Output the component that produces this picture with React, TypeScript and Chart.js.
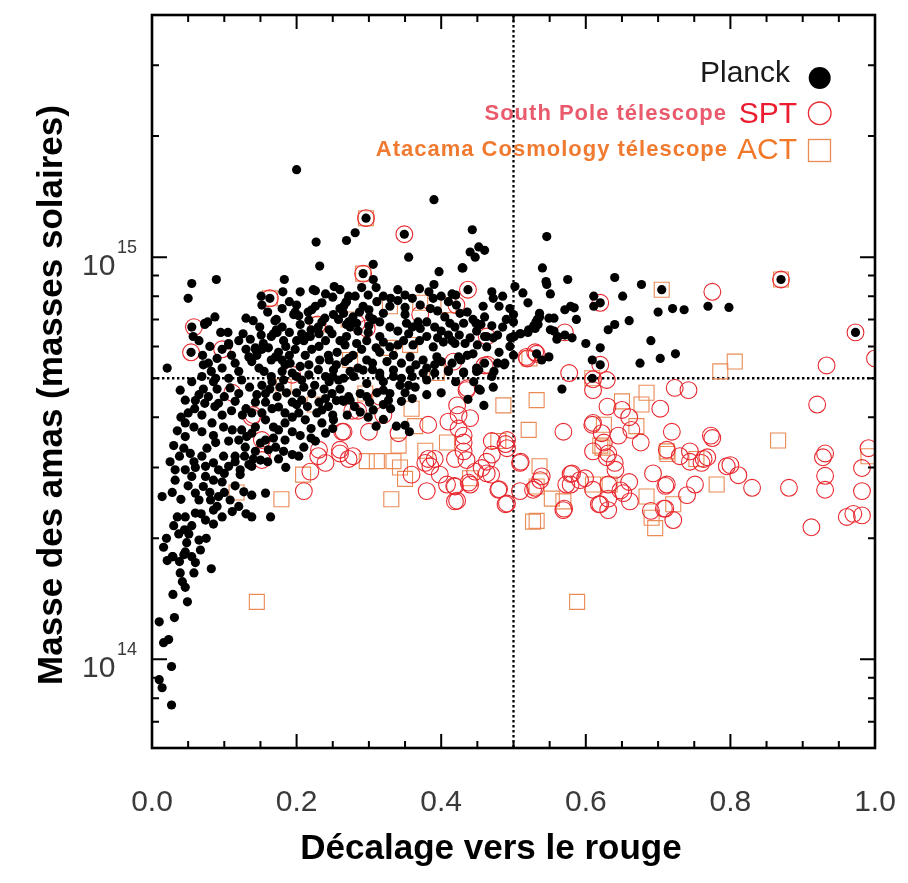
import React, { useEffect, useRef } from "react";
import { Chart, registerables } from "chart.js";

Chart.register(...registerables);

// Masses are given in units of 10^14 solar masses; redshift z first.
const massUnit = 1e14;

const planckData: [number, number][] = [
  [0.2, 16.5], [0.39, 13.9], [0.296, 12.5], [0.349, 11.4], [0.269, 11.0], [0.281, 11.5], [0.227, 10.9], [0.355, 10.0],
  [0.443, 11.7], [0.44, 10.3], [0.447, 10.0], [0.452, 10.6], [0.46, 10.4], [0.546, 11.25], [0.306, 9.6], [0.292, 9.1],
  [0.306, 8.8], [0.397, 9.2], [0.429, 9.4], [0.437, 8.3], [0.39, 8.55], [0.383, 8.2], [0.34, 8.3], [0.232, 9.5],
  [0.183, 8.8], [0.089, 8.8], [0.055, 8.6], [0.05, 7.9], [0.163, 7.9], [0.181, 8.2], [0.205, 8.2], [0.151, 8.0],
  [0.152, 7.6], [0.223, 8.3], [0.226, 8.25], [0.252, 8.45], [0.235, 7.7], [0.268, 7.7], [0.055, 6.7], [0.057, 6.35],
  [0.073, 6.8], [0.087, 7.1], [0.054, 5.8], [0.097, 5.9], [0.106, 6.1], [0.095, 6.5], [0.105, 6.5], [0.126, 6.45],
  [0.136, 6.25], [0.149, 6.7], [0.17, 6.95], [0.165, 6.35], [0.173, 6.5], [0.198, 7.3], [0.203, 7.15], [0.217, 6.97],
  [0.23, 6.7], [0.221, 7.4], [0.226, 7.55], [0.21, 6.2], [0.219, 6.35], [0.231, 6.45], [0.24, 6.2], [0.249, 6.45],
  [0.258, 7.0], [0.265, 7.55], [0.272, 8.0], [0.274, 6.7], [0.161, 5.95], [0.152, 5.9], [0.143, 5.9], [0.134, 5.65],
  [0.171, 5.65], [0.175, 5.8], [0.198, 5.9], [0.212, 5.7], [0.231, 6.0], [0.244, 5.7], [0.256, 5.8], [0.267, 6.05],
  [0.272, 5.6], [0.269, 7.75], [0.281, 8.0], [0.299, 8.05], [0.311, 7.75], [0.329, 7.55], [0.35, 7.2], [0.371, 7.6],
  [0.385, 7.45], [0.389, 7.9], [0.41, 7.75], [0.421, 7.6], [0.426, 7.25], [0.458, 7.55], [0.47, 8.2], [0.472, 7.9],
  [0.485, 8.0], [0.48, 7.55], [0.495, 7.45], [0.502, 8.45], [0.513, 8.15], [0.52, 7.7], [0.26, 7.45], [0.278, 7.1],
  [0.292, 7.55], [0.301, 7.1], [0.32, 7.25], [0.269, 6.8], [0.283, 6.85], [0.306, 7.0], [0.299, 6.5], [0.329, 6.7],
  [0.352, 6.85], [0.368, 6.9], [0.371, 6.65], [0.391, 6.7], [0.405, 7.1], [0.412, 6.85], [0.419, 6.7], [0.431, 6.85],
  [0.449, 6.85], [0.463, 6.35], [0.472, 6.3], [0.485, 6.7], [0.5, 6.35], [0.509, 6.45], [0.52, 6.5], [0.53, 6.65],
  [0.536, 7.1], [0.269, 6.35], [0.283, 6.1], [0.297, 6.2], [0.315, 6.35], [0.329, 5.98], [0.348, 6.2], [0.361, 6.05],
  [0.38, 6.35], [0.389, 5.98], [0.403, 6.15], [0.419, 6.1], [0.433, 6.1], [0.444, 5.75], [0.424, 5.65], [0.394, 5.65],
  [0.375, 5.55], [0.357, 5.65], [0.334, 5.7], [0.315, 5.8], [0.297, 5.55], [0.278, 5.7], [0.267, 5.5], [0.274, 5.2],
  [0.292, 5.24], [0.315, 5.15], [0.334, 5.24], [0.357, 5.24], [0.391, 5.4], [0.41, 5.24], [0.431, 5.15], [0.449, 5.3],
  [0.47, 5.05], [0.488, 5.45], [0.5, 5.7], [0.463, 5.98], [0.449, 6.55], [0.444, 7.0], [0.279, 5.05], [0.297, 4.85],
  [0.315, 5.05], [0.334, 5.05], [0.355, 4.8], [0.364, 4.75], [0.343, 4.8], [0.38, 4.95], [0.391, 5.15], [0.41, 5.2],
  [0.431, 5.18], [0.449, 5.2], [0.472, 4.75], [0.454, 4.67], [0.437, 4.43], [0.459, 4.28], [0.265, 4.38], [0.274, 4.41],
  [0.288, 4.58], [0.297, 4.5], [0.301, 4.36], [0.311, 4.6], [0.32, 4.67], [0.329, 4.58], [0.327, 4.41], [0.345, 4.38],
  [0.306, 4.17], [0.288, 4.12], [0.299, 4.0], [0.338, 3.8], [0.35, 3.82], [0.356, 3.68], [0.43, 9.4], [0.436, 7.3],
  [0.448, 6.85], [0.455, 6.8], [0.46, 6.35], [0.478, 6.4], [0.45, 6.05], [0.436, 5.7], [0.427, 5.55], [0.452, 5.24],
  [0.473, 5.2], [0.478, 5.45], [0.487, 5.4], [0.452, 4.7], [0.536, 7.25], [0.533, 7.0], [0.528, 6.75], [0.521, 6.6],
  [0.51, 6.45], [0.501, 6.35], [0.496, 6.3], [0.549, 7.05], [0.556, 7.05], [0.551, 6.6], [0.561, 6.35], [0.571, 7.4],
  [0.579, 7.55], [0.584, 7.48], [0.587, 7.0], [0.6, 6.1], [0.62, 5.95], [0.631, 6.6], [0.64, 6.8], [0.66, 6.95],
  [0.609, 5.55], [0.62, 5.4], [0.675, 5.45], [0.69, 6.2], [0.703, 5.6], [0.724, 5.75], [0.567, 4.7], [0.54, 9.4],
  [0.545, 8.7], [0.546, 8.55], [0.551, 8.1], [0.575, 8.8], [0.64, 8.9], [0.677, 8.55], [0.705, 8.3], [0.651, 8.0],
  [0.611, 8.0], [0.611, 7.55], [0.62, 7.7], [0.531, 6.9], [0.534, 6.8], [0.556, 6.55], [0.56, 6.25], [0.571, 6.4],
  [0.581, 6.3], [0.7, 7.3], [0.72, 7.45], [0.736, 7.4], [0.769, 7.55], [0.798, 7.5], [0.532, 5.75], [0.539, 5.55],
  [0.549, 5.65], [0.609, 5.0], [0.87, 8.8], [0.973, 6.5],
  [0.021, 5.3], [0.071, 5.4], [0.082, 5.2], [0.069, 5.05], [0.055, 4.9], [0.039, 4.67], [0.046, 4.41], [0.071, 4.7],
  [0.078, 4.5], [0.059, 4.2], [0.073, 4.33], [0.087, 4.25], [0.092, 4.33], [0.069, 4.05], [0.097, 4.05], [0.083, 3.87],
  [0.099, 3.78], [0.046, 3.87], [0.058, 3.78], [0.046, 3.58], [0.069, 3.68], [0.085, 3.6], [0.111, 3.72], [0.124, 3.72],
  [0.044, 3.35], [0.053, 3.25], [0.076, 3.35], [0.088, 3.46], [0.106, 3.49], [0.12, 3.51], [0.131, 3.58], [0.138, 3.65],
  [0.143, 3.78], [0.129, 3.37], [0.115, 3.2], [0.099, 3.2], [0.069, 3.2], [0.058, 3.1], [0.046, 2.96], [0.032, 2.96],
  [0.032, 2.79], [0.074, 3.02], [0.085, 3.08], [0.092, 2.96], [0.106, 3.02], [0.122, 2.96], [0.134, 3.05], [0.074, 2.85],
  [0.085, 2.79], [0.097, 2.76], [0.071, 2.69], [0.06, 2.59], [0.065, 2.49], [0.081, 2.49], [0.092, 2.54], [0.108, 2.49],
  [0.09, 2.4], [0.111, 2.33], [0.097, 2.26], [0.085, 2.17], [0.074, 2.22], [0.06, 2.31], [0.046, 2.26], [0.035, 2.26],
  [0.037, 2.05], [0.051, 2.05], [0.065, 1.98], [0.048, 1.95], [0.016, 1.9], [0.014, 2.54], [0.028, 1.8], [0.044, 1.82],
  [0.055, 1.8], [0.138, 2.26], [0.164, 2.26], [0.157, 2.59], [0.138, 2.56], [0.127, 2.61], [0.122, 2.88], [0.138, 3.02],
  [0.15, 3.13], [0.143, 3.29], [0.157, 3.51], [0.168, 3.55], [0.171, 3.37], [0.161, 3.32], [0.182, 3.29], [0.194, 3.23],
  [0.203, 3.2], [0.21, 3.37], [0.226, 3.49], [0.184, 3.51], [0.175, 3.72], [0.157, 3.94], [0.168, 3.78], [0.138, 4.1],
  [0.152, 4.1], [0.143, 4.36], [0.157, 4.36], [0.166, 4.2], [0.175, 4.24], [0.184, 4.1], [0.194, 4.0], [0.203, 4.1],
  [0.194, 4.36], [0.207, 4.41], [0.221, 4.58], [0.231, 4.36], [0.235, 4.17], [0.212, 3.94], [0.184, 3.87], [0.194, 3.68],
  [0.173, 4.5], [0.157, 4.58], [0.152, 4.8], [0.166, 4.9], [0.182, 4.95], [0.194, 5.15], [0.207, 4.95], [0.217, 5.1],
  [0.24, 5.05], [0.251, 5.24], [0.258, 4.95], [0.249, 4.58], [0.263, 4.41], [0.244, 4.25], [0.235, 3.87], [0.251, 3.94],
  [0.272, 4.5], [0.217, 5.4], [0.184, 5.4], [0.148, 5.3], [0.138, 5.5], [0.115, 5.45], [0.097, 5.3], [0.078, 5.45],
  [0.115, 4.38], [0.12, 4.58], [0.108, 4.73], [0.124, 4.95], [0.106, 5.0], [0.088, 5.0],
  [0.021, 1.76], [0.029, 1.8], [0.038, 1.75], [0.046, 1.85], [0.06, 1.74], [0.067, 1.87], [0.039, 1.64], [0.042, 1.56],
  [0.046, 1.51], [0.058, 1.64], [0.082, 1.68], [0.029, 1.45], [0.049, 1.39], [0.031, 1.27], [0.01, 1.24], [0.016, 1.1],
  [0.023, 1.12], [0.027, 0.96], [0.01, 0.89], [0.014, 0.85], [0.027, 0.77],
  [0.073, 6.85], [0.077, 6.9], [0.106, 6.05], [0.143, 5.95], [0.145, 5.7], [0.151, 6.4], [0.154, 6.1], [0.168, 6.45],
  [0.172, 6.6], [0.172, 7.0], [0.182, 6.2], [0.196, 7.2], [0.207, 6.45], [0.214, 6.35], [0.216, 7.3], [0.239, 7.05],
  [0.251, 7.2], [0.265, 7.25], [0.272, 6.9], [0.191, 5.45], [0.205, 5.35], [0.221, 5.9], [0.232, 5.55],
  [0.2, 4.6], [0.21, 4.75], [0.225, 4.8], [0.238, 4.7], [0.245, 4.9], [0.26, 4.7], [0.265, 5.0], [0.255, 4.4],
  [0.24, 4.45], [0.228, 4.1], [0.215, 4.25], [0.2, 4.3], [0.186, 4.6], [0.177, 4.75], [0.163, 4.7], [0.145, 4.55],
  [0.135, 4.75], [0.13, 4.2], [0.125, 4.05], [0.11, 4.15], [0.1, 4.5], [0.09, 4.7], [0.085, 4.9], [0.065, 4.55],
  [0.06, 4.4], [0.05, 4.1], [0.04, 4.0], [0.035, 3.7], [0.03, 3.4], [0.038, 3.2], [0.025, 3.1], [0.028, 2.6],
  [0.04, 2.5], [0.05, 2.7], [0.055, 2.85], [0.06, 3.0], [0.08, 2.6], [0.1, 2.6], [0.115, 2.7], [0.1, 2.9],
  [0.115, 3.1], [0.128, 3.2], [0.14, 3.15], [0.15, 3.45], [0.16, 3.1], [0.175, 3.15], [0.185, 3.0], [0.12, 2.4],
  [0.13, 2.3], [0.075, 2.0], [0.085, 2.35], [0.055, 2.15], [0.045, 2.1], [0.03, 2.15], [0.02, 2.0], [0.068, 2.3],
  [0.285, 5.3], [0.305, 5.45], [0.325, 5.5], [0.345, 5.45], [0.365, 5.4], [0.38, 5.3], [0.4, 5.5], [0.415, 5.45],
  [0.31, 5.95], [0.32, 6.15], [0.34, 6.05], [0.355, 6.45], [0.37, 6.2], [0.395, 6.3], [0.41, 6.4], [0.425, 6.4],
  [0.44, 6.3], [0.3, 6.75], [0.315, 6.9], [0.34, 6.55], [0.36, 6.7], [0.38, 6.9], [0.4, 6.55], [0.415, 6.2],
  [0.35, 7.5], [0.36, 7.9], [0.34, 7.8], [0.32, 8.0], [0.395, 7.35], [0.4, 8.0], [0.415, 8.1], [0.3, 7.4],
  [0.287, 7.3], [0.285, 6.55], [0.29, 5.9], [0.305, 5.25], [0.32, 4.9], [0.345, 5.0], [0.36, 5.05], [0.375, 5.15],
  [0.255, 5.4], [0.245, 5.55], [0.26, 6.2], [0.245, 6.6], [0.235, 6.9], [0.22, 6.6], [0.205, 6.8], [0.19, 6.5],
  [0.18, 6.7], [0.185, 6.0], [0.2, 6.2], [0.19, 5.7], [0.18, 5.55], [0.165, 5.55], [0.155, 5.2], [0.165, 5.05],
  [0.18, 5.2], [0.2, 5.05], [0.23, 5.25], [0.25, 5.05], [0.12, 5.2], [0.13, 5.9], [0.12, 6.2], [0.11, 5.7],
  [0.09, 5.6], [0.08, 6.0], [0.07, 5.7], [0.065, 6.2], [0.14, 6.95], [0.13, 7.05], [0.16, 7.3], [0.18, 7.45],
  [0.19, 7.75], [0.2, 7.6], [0.25, 7.95], [0.24, 8.1], [0.26, 8.3], [0.29, 8.4], [0.31, 8.4], [0.33, 7.9],
  [0.35, 8.05], [0.37, 8.35], [0.42, 8.05], [0.46, 7.1], [0.47, 6.75], [0.49, 7.0], [0.5, 7.2], [0.5, 6.9],
  [0.48, 5.8], [0.495, 6.0], [0.46, 5.45], [0.445, 4.9], [0.42, 4.9], [0.4, 4.6], [0.38, 4.55], [0.36, 4.45],
  [0.35, 4.6], [0.32, 4.3], [0.33, 4.2], [0.28, 4.25], [0.27, 4.05], [0.25, 4.05], [0.22, 3.75], [0.205, 3.6],
  [0.22, 3.55], [0.24, 3.65], [0.25, 3.75], [0.32, 3.95], [0.31, 3.8]
];

const sptData: [number, number][] = [
  [0.296, 12.5], [0.349, 11.4], [0.292, 9.1], [0.163, 7.9], [0.437, 8.3], [0.058, 6.7], [0.054, 5.8], [0.097, 5.9],
  [0.229, 6.8], [0.283, 6.85], [0.297, 6.65], [0.371, 7.2], [0.421, 7.6], [0.463, 6.35], [0.417, 5.5], [0.46, 5.38],
  [0.518, 5.65], [0.53, 5.8], [0.62, 7.7], [0.571, 6.5], [0.532, 5.75], [0.62, 5.4], [0.775, 8.2], [0.87, 8.8],
  [0.973, 6.5], [0.933, 5.38], [1.0, 5.6], [0.92, 4.3], [0.111, 4.6], [0.194, 5.1], [0.138, 4.0], [0.152, 3.51],
  [0.152, 3.23], [0.152, 3.13], [0.231, 3.32], [0.23, 3.2], [0.24, 3.08], [0.26, 3.25], [0.272, 3.15], [0.263, 3.68],
  [0.219, 2.93], [0.21, 2.62], [0.277, 4.15], [0.285, 4.15], [0.32, 4.05], [0.315, 4.5], [0.265, 3.68], [0.3, 3.68],
  [0.341, 3.65], [0.382, 3.83], [0.41, 3.9], [0.424, 4.05], [0.44, 3.98], [0.435, 4.67], [0.424, 3.75], [0.431, 3.6],
  [0.431, 3.46], [0.431, 3.29], [0.47, 3.49], [0.491, 3.51], [0.491, 3.35], [0.26, 3.32], [0.278, 3.2], [0.382, 3.15],
  [0.378, 3.08], [0.391, 3.15], [0.385, 3.02], [0.419, 3.15], [0.435, 3.13], [0.47, 3.23], [0.463, 3.1], [0.456, 2.99],
  [0.463, 2.9], [0.447, 2.93], [0.398, 2.88], [0.408, 2.72], [0.419, 2.69], [0.44, 2.72], [0.419, 2.47], [0.38, 2.62],
  [0.359, 2.88], [0.479, 2.64], [0.491, 2.44], [0.509, 3.08], [0.509, 2.62], [0.527, 2.64], [0.537, 2.79],
  [0.61, 4.97], [0.629, 4.95], [0.61, 4.67], [0.723, 4.73], [0.742, 4.67], [0.63, 4.25], [0.65, 4.17], [0.66, 4.0],
  [0.703, 4.2], [0.61, 3.87], [0.622, 3.65], [0.645, 3.6], [0.663, 3.72], [0.676, 3.46], [0.569, 3.68], [0.719, 3.68],
  [0.775, 3.55], [0.625, 3.46], [0.61, 3.29], [0.631, 3.25], [0.64, 3.08], [0.641, 2.96], [0.629, 3.18], [0.712, 3.32],
  [0.73, 3.2], [0.744, 3.29], [0.763, 3.15], [0.744, 3.1], [0.795, 3.02], [0.539, 2.85], [0.53, 2.67], [0.581, 2.9],
  [0.573, 2.72], [0.592, 2.79], [0.599, 2.82], [0.61, 2.64], [0.631, 2.72], [0.652, 2.59], [0.66, 2.76], [0.631, 2.51],
  [0.62, 2.43], [0.631, 2.35], [0.661, 2.47], [0.569, 2.35], [0.693, 2.9], [0.712, 2.72], [0.74, 2.56], [0.751, 2.72],
  [0.71, 2.37], [0.721, 2.22], [0.69, 2.34], [0.768, 3.18], [0.76, 3.08], [0.8, 3.04], [0.811, 2.87], [0.83, 2.67],
  [0.881, 2.67], [0.931, 3.25], [0.928, 3.18], [0.931, 2.86], [0.931, 2.64], [0.912, 2.13], [0.961, 2.26], [0.97, 2.3],
  [0.982, 2.28], [0.982, 2.99], [0.982, 2.62], [0.991, 3.35], [0.469, 2.88], [0.438, 2.75], [0.418, 2.7], [0.422, 2.48],
  [0.489, 3.43], [0.51, 3.1], [0.48, 2.65], [0.489, 2.43], [0.57, 2.37], [0.579, 2.89], [0.579, 2.72], [0.618, 2.43],
  [0.648, 2.63], [0.71, 2.7], [0.708, 2.37], [0.577, 5.15], [0.519, 5.6], [0.436, 4.72], [0.422, 4.28], [0.464, 5.4],
  [0.773, 3.6], [0.609, 3.83], [0.14, 4.05]
];

const actData: [number, number][] = [
  [0.296, 12.5], [0.292, 9.1], [0.163, 7.9], [0.229, 6.8], [0.705, 8.3], [0.87, 8.8], [0.329, 7.55], [0.371, 7.7],
  [0.41, 7.6], [0.272, 7.0], [0.327, 5.95], [0.357, 6.05], [0.274, 5.55], [0.394, 5.15], [0.295, 4.58], [0.225, 4.3],
  [0.182, 4.76], [0.359, 4.2], [0.364, 3.8], [0.209, 2.88], [0.179, 2.5], [0.117, 2.6], [0.297, 3.11], [0.311, 3.11],
  [0.334, 3.11], [0.343, 3.0], [0.35, 2.81], [0.331, 2.5], [0.378, 3.3], [0.408, 3.46], [0.341, 3.4], [0.145, 1.39],
  [0.486, 4.28], [0.521, 3.72], [0.532, 4.41], [0.44, 2.82], [0.479, 3.49], [0.527, 2.2], [0.536, 3.02], [0.609, 5.0],
  [0.65, 4.38], [0.677, 4.3], [0.684, 4.6], [0.67, 3.8], [0.625, 3.83], [0.62, 3.4], [0.712, 3.29], [0.753, 3.15],
  [0.786, 5.2], [0.806, 5.5], [0.532, 2.69], [0.61, 2.72], [0.633, 2.72], [0.553, 2.51], [0.569, 2.47], [0.684, 2.54],
  [0.721, 2.43], [0.781, 2.72], [0.532, 2.21], [0.691, 2.25], [0.696, 2.12], [0.866, 3.5], [0.991, 3.2], [0.588, 1.39],
  [0.522, 5.6], [0.623, 3.36], [0.713, 3.24]
];

const xMajorTicks = [0, 0.2, 0.4, 0.6, 0.8, 1.0];
const xTickLabels = ["0.0", "0.2", "0.4", "0.6", "0.8", "1.0"];
const yMajorTicks = [1e14, 1e15];
const yTickExponents = ["14", "15"];
const zThreshold = 0.5;
const massThreshold = 5e14;

const xTitle = "Décalage vers le rouge";
const yTitle = "Masse des amas (masses solaires)";

const SPT_COLOR = "#e8282f";
const ACT_COLOR = "#ea8a55";

const decorPlugin = {
  id: "decor",
  beforeDatasetsDraw(chart: any) {
    const { ctx, chartArea: a, scales } = chart;
    const xs = scales.x;
    const ys = scales.y;
    ctx.save();
    ctx.strokeStyle = "#000";
    ctx.lineWidth = 2.3;
    ctx.setLineDash([2.4, 2.6]);
    const vx = xs.getPixelForValue(zThreshold);
    ctx.beginPath();
    ctx.moveTo(vx, a.top);
    ctx.lineTo(vx, a.bottom);
    ctx.stroke();
    const hy = ys.getPixelForValue(massThreshold);
    ctx.beginPath();
    ctx.moveTo(a.left, hy);
    ctx.lineTo(a.right, hy);
    ctx.stroke();
    ctx.restore();
  },
  afterDraw(chart: any) {
    const { ctx, chartArea: a, scales } = chart;
    const xs = scales.x;
    const ys = scales.y;
    ctx.save();
    // frame
    ctx.strokeStyle = "#000";
    ctx.lineWidth = 2.6;
    ctx.strokeRect(a.left, a.top, a.right - a.left, a.bottom - a.top);
    ctx.lineWidth = 2;
    // x ticks
    for (let i = 1; i < 20; i++) {
      const v = i * 0.05;
      const px = xs.getPixelForValue(v);
      const major = i % 4 === 0;
      const len = major ? 14 : 7;
      ctx.beginPath();
      ctx.moveTo(px, a.bottom);
      ctx.lineTo(px, a.bottom - len);
      ctx.moveTo(px, a.top);
      ctx.lineTo(px, a.top + len);
      ctx.stroke();
    }
    // y ticks
    for (let e = 13; e <= 15; e++) {
      for (let m = 1; m <= 9; m++) {
        const v = m * Math.pow(10, e);
        if (v <= ys.min || v >= ys.max) continue;
        const py = ys.getPixelForValue(v);
        const len = m === 1 ? 15 : 7;
        ctx.beginPath();
        ctx.moveTo(a.left, py);
        ctx.lineTo(a.left + len, py);
        ctx.moveTo(a.right, py);
        ctx.lineTo(a.right - len, py);
        ctx.stroke();
      }
    }
    // x tick labels
    ctx.fillStyle = "#3a3a3a";
    ctx.font = '30px "Liberation Sans", Arial, sans-serif';
    ctx.textAlign = "center";
    ctx.textBaseline = "alphabetic";
    xMajorTicks.forEach((v, i) => {
      ctx.fillText(xTickLabels[i], xs.getPixelForValue(v), a.bottom + 63);
    });
    // y tick labels 10^n
    yMajorTicks.forEach((v, i) => {
      const py = ys.getPixelForValue(v);
      const right = a.left - 15;
      ctx.textAlign = "right";
      ctx.font = '18px "Liberation Sans", Arial, sans-serif';
      const sw = ctx.measureText(yTickExponents[i]).width;
      ctx.fillText(yTickExponents[i], right, py - 4);
      ctx.font = '30px "Liberation Sans", Arial, sans-serif';
      ctx.fillText("10", right - sw - 1.5, py + 17.5);
    });
    // axis titles
    ctx.fillStyle = "#000";
    ctx.font = 'bold 35px "Liberation Sans", Arial, sans-serif';
    ctx.textAlign = "center";
    ctx.fillText(xTitle, 491, 859);
    ctx.save();
    ctx.translate(61.5, 395);
    ctx.rotate(-Math.PI / 2);
    ctx.fillText(yTitle, 0, 0);
    ctx.restore();

    // legend
    ctx.textAlign = "right";
    ctx.font = '30px "Liberation Sans", Arial, sans-serif';
    ctx.fillStyle = "#1a1a1a";
    ctx.fillText("Planck", 790, 82);
    ctx.fillStyle = "#000";
    ctx.beginPath();
    ctx.arc(819.7, 78, 11, 0, Math.PI * 2);
    ctx.fill();

    ctx.fillStyle = "#ec1c30";
    ctx.fillText("SPT", 797, 123);
    ctx.fillStyle = "#f07828";
    ctx.fillText("ACT", 797, 158.5);

    ctx.font = 'bold 22px "Liberation Sans", Arial, sans-serif';
    (ctx as any).letterSpacing = "1px";
    ctx.fillStyle = "#e95a6c";
    ctx.fillText("South Pole télescope", 727, 119.5);
    ctx.fillStyle = "#f07a30";
    ctx.fillText("Atacama Cosmology télescope", 728, 156);
    (ctx as any).letterSpacing = "0px";

    ctx.lineWidth = 1.3;
    ctx.strokeStyle = SPT_COLOR;
    ctx.beginPath();
    ctx.arc(819.7, 113.3, 11.3, 0, Math.PI * 2);
    ctx.stroke();
    ctx.strokeStyle = ACT_COLOR;
    ctx.strokeRect(808.5, 139.5, 22, 22);
    ctx.restore();
  },
};

export default function App() {
  const canvasRef = useRef<HTMLCanvasElement | null>(null);

  useEffect(() => {
    document.body.style.margin = "0";
    const canvas = canvasRef.current;
    if (!canvas) return;
    const toPoints = (arr: [number, number][]) => arr.map(([z, m]) => ({ x: z, y: m * massUnit }));
    const chart = new Chart(canvas, {
      type: "scatter",
      data: {
        datasets: [
          {
            label: "Planck",
            data: toPoints(planckData),
            pointRadius: 4.6,
            pointStyle: "circle",
            backgroundColor: "#000",
            borderColor: "#000",
            borderWidth: 0,
          },
          {
            label: "SPT",
            data: toPoints(sptData),
            pointRadius: 8.4,
            pointStyle: "circle",
            backgroundColor: "rgba(0,0,0,0)",
            borderColor: SPT_COLOR,
            borderWidth: 1.1,
          },
          {
            label: "ACT",
            data: toPoints(actData),
            pointRadius: 10.6,
            pointStyle: "rect",
            backgroundColor: "rgba(0,0,0,0)",
            borderColor: ACT_COLOR,
            borderWidth: 1.1,
          },
        ],
      },
      options: {
        responsive: false,
        animation: false,
        events: [],
        layout: { padding: { left: 152, right: 33, top: 15, bottom: 135 } },
        scales: {
          x: { type: "linear", min: 0, max: 1, display: false },
          y: { type: "logarithmic", min: 6.02e13, max: 4.0e15, display: false },
        },
        plugins: {
          legend: { display: false },
          tooltip: { enabled: false },
        },
      },
      plugins: [decorPlugin],
    });
    return () => chart.destroy();
  }, []);

  return (
    <div style={{ width: 908, height: 883, background: "#fff" }}>
      <canvas ref={canvasRef} width={908} height={883} style={{ display: "block" }} />
    </div>
  );
}
